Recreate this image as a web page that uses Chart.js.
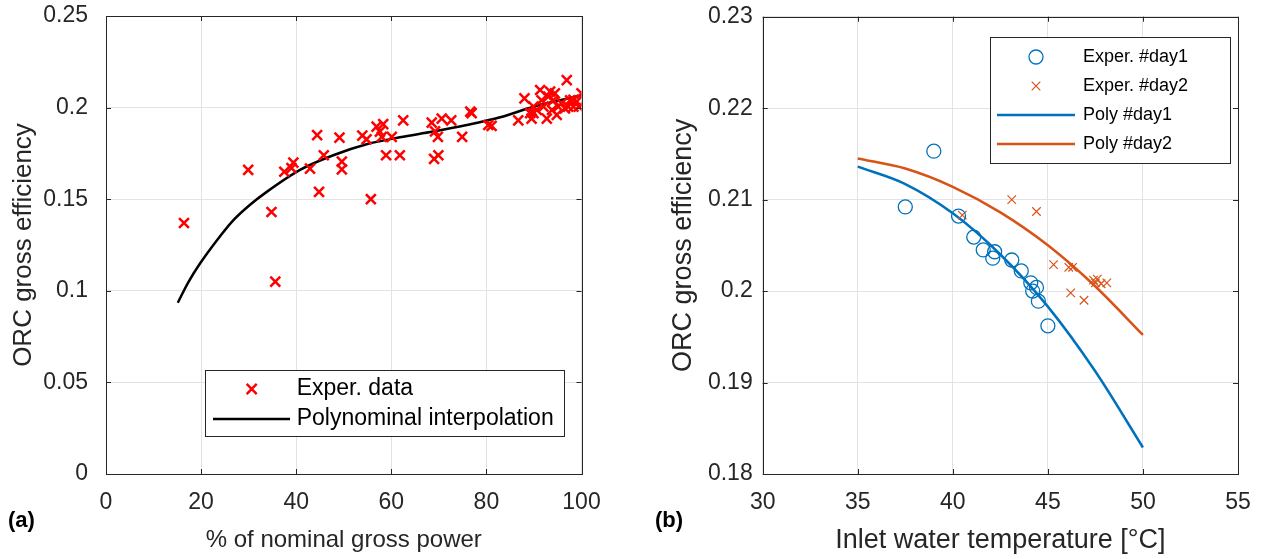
<!DOCTYPE html>
<html>
<head>
<meta charset="utf-8">
<script src="https://cdn.jsdelivr.net/npm/chart.js@4/dist/chart.umd.min.js"></script>
<style>
  html, body { margin: 0; padding: 0; background: #fff; }
  #wrapA, #wrapB { position: absolute; top: 0; width: 631px; height: 559px; }
  #wrapA { left: 0; }
  #wrapB { left: 631px; }
</style>
</head>
<body>
<div id="wrapA"><canvas id="chartA"></canvas></div>
<div id="wrapB"><canvas id="chartB"></canvas></div>
<script>
// ---- panel (a): efficiency vs % of nominal gross power ----
const powerPct = [16.4, 29.9, 34.8, 35.6, 37.5, 39.0, 39.4, 42.9, 44.4, 44.8, 45.8, 49.1, 49.6, 49.6,
  53.9, 54.8, 55.7, 56.9, 57.6, 58.3, 58.0, 58.9, 60.1, 61.8, 62.5, 68.5, 69.2, 69.8, 69.0, 69.9,
  70.6, 72.6, 74.9, 76.6, 76.9, 80.4, 81.1, 86.7, 88.0, 89.5, 89.9, 89.9, 91.3, 92.7, 93.0, 93.4,
  94.1, 94.4, 95.1, 96.9, 97.6, 98.3, 99.0, 100.0, 98.3, 95.8, 96.5, 92.0, 90.6, 93.8, 91.6, 89.2,
  94.8, 97.2, 99.4];
const effA = [0.137, 0.166, 0.143, 0.105, 0.165, 0.167, 0.170, 0.1667, 0.185, 0.154, 0.174, 0.1836,
  0.1705, 0.1663, 0.1847, 0.1827, 0.150, 0.1896, 0.1869, 0.191, 0.184, 0.174, 0.184, 0.174, 0.193,
  0.1918, 0.187, 0.184, 0.172, 0.174, 0.194, 0.193, 0.184, 0.1978, 0.197, 0.1905, 0.190, 0.193,
  0.205, 0.194, 0.197, 0.2005, 0.2096, 0.194, 0.206, 0.2087, 0.204, 0.2078, 0.2005, 0.215, 0.204,
  0.2005, 0.2033, 0.2078, 0.2042, 0.2023, 0.1996, 0.2005, 0.1987, 0.1987, 0.204, 0.197, 0.196,
  0.2005, 0.2005];
const polyAX = [15.1, 17.3, 19.8, 23.3, 26.8, 30.3, 33.8, 40.8, 47.8, 54.8, 61.8, 68.8, 75.9, 82.9, 89.9, 100];
const polyAY = [0.0935, 0.1046, 0.115, 0.1275, 0.1386, 0.1470, 0.154, 0.166, 0.174, 0.180, 0.1838,
  0.1869, 0.1905, 0.1947, 0.2005, 0.2067];
const xTicksA = [0, 20, 40, 60, 80, 100];
const xLabelsA = ['0', '20', '40', '60', '80', '100'];
const yTicksA = [0, 0.05, 0.1, 0.15, 0.2, 0.25];
const yLabelsA = ['0', '0.05', '0.1', '0.15', '0.2', '0.25'];

// ---- panel (b): efficiency vs inlet water temperature ----
const day1Temp = [37.5, 39.0, 40.3, 41.1, 41.6, 42.1, 42.2, 43.1, 43.6, 44.1, 44.2, 44.4, 44.5, 45.0];
const day1Eff = [0.2092, 0.2153, 0.2082, 0.2059, 0.2045, 0.2036, 0.2043, 0.2034, 0.2022, 0.2009,
  0.2000, 0.2004, 0.1989, 0.1962];
const day2Temp = [40.5, 43.1, 44.4, 45.3, 46.1, 46.3, 46.2, 46.9, 47.4, 47.6, 47.5, 47.8, 48.1];
const day2Eff = [0.2083, 0.2100, 0.2087, 0.2029, 0.2026, 0.2026, 0.1998, 0.1990, 0.2012, 0.2013,
  0.2009, 0.2008, 0.2009];
const polyTemp = [35, 37.5, 40, 42.5, 45, 47.5, 50];
const poly1Eff = [0.2136, 0.2117, 0.2085, 0.2040, 0.1983, 0.1912, 0.1829];
const poly2Eff = [0.2145, 0.2134, 0.2114, 0.2086, 0.2050, 0.2005, 0.1952];
const xTicksB = [30, 35, 40, 45, 50, 55];
const xLabelsB = ['30', '35', '40', '45', '50', '55'];
const yTicksB = [0.18, 0.19, 0.2, 0.21, 0.22, 0.23];
const yLabelsB = ['0.18', '0.19', '0.2', '0.21', '0.22', '0.23'];

const FONT = "'Liberation Sans', Arial, sans-serif";
const AXIS = '#262626';
const GRID = '#e3e3e3';

const pts = (xs, ys) => xs.map((x, i) => ({ x: x, y: ys[i] }));

// box around the plot area with small inward tick marks (MATLAB style)
const boxPlugin = {
  id: 'box',
  afterDraw(chart) {
    const { ctx, chartArea: a, scales } = chart;
    ctx.save();
    ctx.strokeStyle = AXIS;
    ctx.lineWidth = 1;
    ctx.beginPath();
    for (const t of scales.x.ticks) {
      const px = Math.round(scales.x.getPixelForValue(t.value)) + 0.5;
      ctx.moveTo(px, a.bottom); ctx.lineTo(px, a.bottom - 5);
      ctx.moveTo(px, a.top); ctx.lineTo(px, a.top + 5);
    }
    for (const t of scales.y.ticks) {
      const py = Math.round(scales.y.getPixelForValue(t.value)) + 0.5;
      ctx.moveTo(a.left, py); ctx.lineTo(a.left + 5, py);
      ctx.moveTo(a.right, py); ctx.lineTo(a.right - 5, py);
    }
    ctx.stroke();
    ctx.strokeRect(Math.round(a.left) + 0.5, Math.round(a.top) + 0.5,
      Math.round(a.right - a.left), Math.round(a.bottom - a.top));
    ctx.restore();
  }
};

// legend box drawn inside the plot, plus the panel letter
const legendPlugin = {
  id: 'boxLegend',
  afterDraw(chart, args, opts) {
    const { ctx } = chart;
    ctx.save();
    const b = opts.box;
    ctx.fillStyle = '#fff';
    ctx.fillRect(b.x, b.y, b.w, b.h);
    ctx.strokeStyle = AXIS;
    ctx.lineWidth = 1;
    ctx.strokeRect(b.x + 0.5, b.y + 0.5, b.w, b.h);
    ctx.font = opts.fontSize + 'px ' + FONT;
    ctx.textBaseline = 'middle';
    opts.items.forEach((it, i) => {
      const y = b.y + opts.firstY + i * opts.rowH;
      const ds = chart.data.datasets[it.ds];
      ctx.strokeStyle = ds.borderColor;
      if (it.kind === 'line') {
        ctx.lineWidth = ds.borderWidth;
        ctx.beginPath();
        ctx.moveTo(b.x + opts.lineX0, y); ctx.lineTo(b.x + opts.lineX1, y);
        ctx.stroke();
      } else {
        const cx = b.x + opts.markX, r = ds.pointRadius;
        ctx.lineWidth = ds.pointBorderWidth || ds.borderWidth;
        ctx.beginPath();
        if (ds.pointStyle === 'circle') {
          ctx.arc(cx, y, r, 0, Math.PI * 2);
        } else {
          const d = r * 0.72;
          ctx.moveTo(cx - d, y - d); ctx.lineTo(cx + d, y + d);
          ctx.moveTo(cx + d, y - d); ctx.lineTo(cx - d, y + d);
        }
        ctx.stroke();
      }
      ctx.fillStyle = '#000';
      ctx.fillText(it.text, b.x + opts.textX, y);
    });
    ctx.font = 'bold 22px ' + FONT;
    ctx.fillStyle = '#000';
    ctx.fillText(opts.panel.text, opts.panel.x, opts.panel.y);
    ctx.restore();
  }
};

function scaleOpts(min, max, ticks, labels, title, titleSize, isY, fitSize, titlePad, tickPad) {
  return {
    type: 'linear',
    min: min,
    max: max,
    afterBuildTicks: (s) => { s.ticks = ticks.map((v) => ({ value: v })); },
    afterFit: (s) => {
      // fixed axis size, and no extra padding from overhanging labels
      if (isY) {
        s.width = fitSize;
        s.paddingTop = 0;
        s.paddingBottom = 0;
      } else {
        s.height = fitSize;
        s.paddingLeft = 0;
        s.paddingRight = 0;
      }
    },
    grid: { color: GRID, lineWidth: 1, drawTicks: false },
    border: { display: false },
    ticks: {
      color: AXIS,
      font: { family: FONT, size: 23 },
      padding: tickPad,
      maxRotation: 0,
      autoSkip: false,
      callback: (v, i) => labels[i]
    },
    title: {
      display: true,
      text: title,
      color: AXIS,
      font: { family: FONT, size: titleSize },
      padding: titlePad
    }
  };
}

const ctxA = document.getElementById('chartA').getContext('2d');
const chartA = new Chart(ctxA, {
  type: 'scatter',
  data: {
    datasets: [
      {
        label: 'Exper. data',
        data: pts(powerPct, effA),
        pointStyle: 'crossRot',
        pointRadius: 7,
        borderColor: '#ff0000',
        borderWidth: 2.5,
        showLine: false
      },
      {
        label: 'Polynominal interpolation',
        data: pts(polyAX, polyAY),
        showLine: true,
        pointRadius: 0,
        borderColor: '#000000',
        borderWidth: 2.5,
        cubicInterpolationMode: 'monotone'
      }
    ]
  },
  options: {
    responsive: true,
    maintainAspectRatio: false,
    animation: false,
    layout: { padding: { left: 0, right: 49.5, top: 16, bottom: 0 } },
    plugins: {
      legend: { display: false },
      tooltip: { enabled: false },
      boxLegend: {
        box: { x: 205, y: 370, w: 359, h: 66 },
        fontSize: 23,
        firstY: 19, rowH: 30,
        markX: 46.7, lineX0: 8, lineX1: 85, textX: 91.7,
        items: [
          { ds: 0, kind: 'marker', text: 'Exper. data' },
          { ds: 1, kind: 'line', text: 'Polynominal interpolation' }
        ],
        panel: { text: '(a)', x: 8, y: 521 }
      }
    },
    scales: {
      x: scaleOpts(0, 100, xTicksA, xLabelsA, '% of nominal gross power', 24, false, 85, { top: 0, bottom: 4 }, 15),
      y: scaleOpts(0, 0.25, yTicksA, yLabelsA, 'ORC gross efficiency', 26, true, 106, { top: 8, bottom: 0 }, 18)
    }
  },
  plugins: [boxPlugin, legendPlugin]
});

const ctxB = document.getElementById('chartB').getContext('2d');
const chartB = new Chart(ctxB, {
  type: 'scatter',
  data: {
    datasets: [
      {
        label: 'Exper. #day1',
        data: pts(day1Temp, day1Eff),
        pointStyle: 'circle',
        pointRadius: 7,
        backgroundColor: 'rgba(0,0,0,0)',
        borderColor: '#0072BD',
        borderWidth: 1.3,
        showLine: false
      },
      {
        label: 'Exper. #day2',
        data: pts(day2Temp, day2Eff),
        pointStyle: 'crossRot',
        pointRadius: 6,
        borderColor: '#D95319',
        borderWidth: 1.2,
        showLine: false
      },
      {
        label: 'Poly #day1',
        data: pts(polyTemp, poly1Eff),
        showLine: true,
        pointRadius: 0,
        borderColor: '#0072BD',
        borderWidth: 2.5,
        cubicInterpolationMode: 'monotone'
      },
      {
        label: 'Poly #day2',
        data: pts(polyTemp, poly2Eff),
        showLine: true,
        pointRadius: 0,
        borderColor: '#D95319',
        borderWidth: 2.5,
        cubicInterpolationMode: 'monotone'
      }
    ]
  },
  options: {
    responsive: true,
    maintainAspectRatio: false,
    animation: false,
    layout: { padding: { left: 0, right: 24, top: 16.7, bottom: 0 } },
    plugins: {
      legend: { display: false },
      tooltip: { enabled: false },
      boxLegend: {
        box: { x: 359, y: 37, w: 240, h: 126 },
        fontSize: 18,
        firstY: 20, rowH: 29,
        markX: 46, lineX0: 7, lineX1: 85, textX: 93,
        items: [
          { ds: 0, kind: 'marker', text: 'Exper. #day1' },
          { ds: 1, kind: 'marker', text: 'Exper. #day2' },
          { ds: 2, kind: 'line', text: 'Poly #day1' },
          { ds: 3, kind: 'line', text: 'Poly #day2' }
        ],
        panel: { text: '(b)', x: 24, y: 521 }
      }
    },
    scales: {
      x: scaleOpts(30, 55, xTicksB, xLabelsB, 'Inlet water temperature [°C]', 27, false, 85, { top: 0, bottom: 2 }, 15),
      y: scaleOpts(0.18, 0.23, yTicksB, yLabelsB, 'ORC gross efficiency', 27, true, 131.7, { top: 36, bottom: 0 }, 10)
    }
  },
  plugins: [boxPlugin, legendPlugin]
});
</script>
</body>
</html>
